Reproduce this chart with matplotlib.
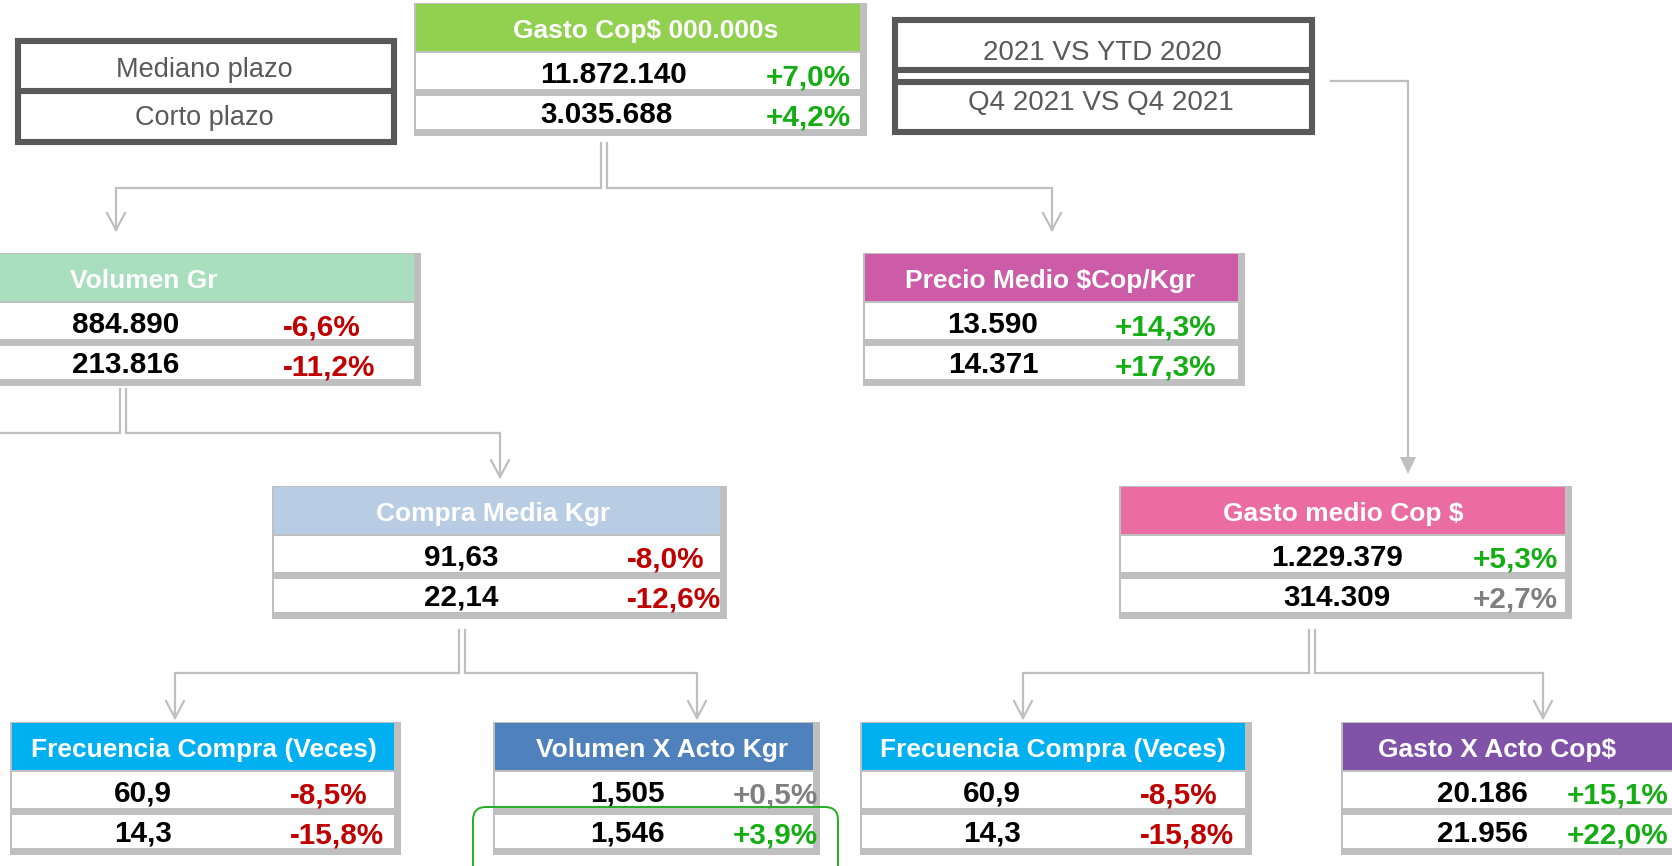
import matplotlib
matplotlib.use("Agg")
import matplotlib.pyplot as plt
from matplotlib.patches import Rectangle, FancyBboxPatch, Polygon

plt.rcParams['font.family'] = ['Liberation Sans', 'DejaVu Sans']

# ---------------- data ----------------
titles = ["Gasto Cop$ 000.000s", "Volumen Gr", "Precio Medio $Cop/Kgr",
          "Compra Media Kgr", "Gasto medio Cop $", "Frecuencia Compra (Veces)",
          "Volumen X Acto Kgr", "Frecuencia Compra (Veces)", "Gasto X Acto Cop$"]
mediano_vals = [11872140, 884890, 13590, 91.63, 1229379, 60.9, 1.505, 60.9, 20186]
corto_vals = [3035688, 213816, 14371, 22.14, 314309, 14.3, 1.546, 14.3, 21956]
decimals = [0, 0, 0, 2, 0, 1, 3, 1, 0]
mediano_pct = [7.0, -6.6, 14.3, -8.0, 5.3, -8.5, 0.5, -8.5, 15.1]
corto_pct = [4.2, -11.2, 17.3, -12.6, 2.7, -15.8, 3.9, -15.8, 22.0]
period_labels = ["Mediano plazo", "Corto plazo"]
comparison_labels = ["2021 VS YTD 2020", "Q4 2021 VS Q4 2021"]

# ---------------- style ----------------
header_colors = ["#92D050", "#A9DFBF", "#CC5BA8", "#B8CCE4", "#EB6CA2",
                 "#00B0F0", "#4F81BD", "#00B0F0", "#8052A8"]
FRAME = "#BFBFBF"
LINE = "#BFBFBF"
DARK = "#595959"
GREEN = "#14AE14"
RED = "#C00000"
GREY = "#7F7F7F"

# layout: frame x0, x1, top, header text cx, value x, value ha, pct left x
layout = [
    (414, 867, 3, 646, 540, 'left', 766),
    (-140, 421, 253, 144, 126, 'center', 283),
    (863, 1245, 253, 1050, 993, 'center', 1115),
    (272, 727, 486, 493, 461, 'center', 627),
    (1119, 1572, 486, 1343, 1337, 'center', 1473),
    (10, 401, 722, 204, 143, 'center', 290),
    (493, 820, 722, 662, 627, 'center', 733),
    (860, 1252, 722, 1053, 992, 'center', 1140),
    (1341, 1690, 722, 1497, 1482, 'center', 1567),
]


def fmt_num(v, d):
    s = f"{v:,.{d}f}"
    return s.replace(",", "X").replace(".", ",").replace("X", ".")


def fmt_pct(p):
    return f"{p:+.1f}%".replace(".", ",")


def pct_color(p):
    if p < 0:
        return RED
    if p >= 3:
        return GREEN
    return GREY


fig = plt.figure(figsize=(16.72, 8.66), dpi=100)
ax = fig.add_axes([0, 0, 1, 1])
ax.set_xlim(0, 1672)
ax.set_ylim(866, 0)
ax.axis('off')

VAL_FS = 21.3
HEAD_FS = 19

for i, (x0, x1, top, hcx, vx, vha, pcx) in enumerate(layout):
    # grey frame / shadow
    ax.add_patch(Rectangle((x0, top), x1 - x0, 133, facecolor=FRAME, edgecolor='none', zorder=1))
    inner_l = x0 + 2
    inner_r = x1 - 7
    ax.add_patch(Rectangle((inner_l, top + 1), inner_r - inner_l, 47,
                           facecolor=header_colors[i], edgecolor='none', zorder=2))
    ax.add_patch(Rectangle((inner_l, top + 50), inner_r - inner_l, 36,
                           facecolor='white', edgecolor='none', zorder=2))
    ax.add_patch(Rectangle((inner_l, top + 93), inner_r - inner_l, 33,
                           facecolor='white', edgecolor='none', zorder=2))
    ax.text(hcx, top + 35, titles[i], color='white', fontsize=HEAD_FS, fontweight='bold',
            ha='center', va='baseline', zorder=3)
    for base_y, v, p in ((top + 80, mediano_vals[i], mediano_pct[i]),
                         (top + 120, corto_vals[i], corto_pct[i])):
        ax.text(vx, base_y, fmt_num(v, decimals[i]), color='black', fontsize=VAL_FS,
                fontweight='bold', ha=vha, va='baseline', zorder=3)
        ax.text(pcx, base_y + 2, fmt_pct(p), color=pct_color(p), fontsize=VAL_FS,
                fontweight='bold', ha='left', va='baseline', zorder=3)

# ---------------- legend-like label boxes ----------------
LW_DARK = 4.4
ax.add_patch(Rectangle((18, 41), 376, 101, facecolor='none', edgecolor=DARK, lw=LW_DARK, zorder=4))
ax.plot([18, 394], [90.5, 90.5], color=DARK, lw=LW_DARK, zorder=4, solid_capstyle='butt')
ax.text(204, 77, period_labels[0], color=DARK, fontsize=19.5, ha='center', va='baseline')
ax.text(204, 125, period_labels[1], color=DARK, fontsize=19.5, ha='center', va='baseline')

ax.add_patch(Rectangle((895, 20), 417, 112, facecolor='none', edgecolor=DARK, lw=LW_DARK, zorder=4))
ax.plot([895, 1312], [69.5, 69.5], color=DARK, lw=LW_DARK, zorder=4, solid_capstyle='butt')
ax.plot([895, 1312], [81.5, 81.5], color=DARK, lw=LW_DARK, zorder=4, solid_capstyle='butt')
ax.text(1102, 60, comparison_labels[0], color=DARK, fontsize=20, ha='center', va='baseline')
ax.text(1101, 110, comparison_labels[1], color=DARK, fontsize=20, ha='center', va='baseline')

# ---------------- connectors ----------------
LW = 1.6


def path(xs, ys):
    ax.plot(xs, ys, color=LINE, lw=LW, zorder=0.5, solid_joinstyle='miter')


def vhead(x, y):
    ax.plot([x - 9, x, x + 9], [y - 17, y, y - 17], color=LINE, lw=LW, zorder=0.5)


def branch(xl, xr, y_top, y_mid, left_to, right_to, tip_y, left_arrow=True):
    path([xl, xl, left_to] + ([left_to] if left_arrow else []),
         [y_top, y_mid, y_mid] + ([tip_y] if left_arrow else []))
    if left_arrow:
        vhead(left_to, tip_y)
    path([xr, xr, right_to, right_to], [y_top, y_mid, y_mid, tip_y])
    vhead(right_to, tip_y)


branch(601, 607, 143, 188, 116, 1052, 230)
branch(120, 126, 389, 433, -5, 500, 477, left_arrow=False)
branch(459, 465, 630, 673, 175, 697, 718)
branch(1309, 1315, 630, 673, 1023, 1543, 718)

# connector from comparison box to Gasto medio
path([1331, 1408, 1408], [81, 81, 458])
ax.add_patch(Polygon([[1400, 457], [1416, 457], [1408, 474]], closed=True,
                     facecolor=LINE, edgecolor='none', zorder=0.5))

# green highlight around the short-term Volumen X Acto row
ax.add_patch(FancyBboxPatch((473, 807), 365, 80, boxstyle="round,pad=0,rounding_size=13",
                            facecolor='none', edgecolor="#22B022", lw=1.4, zorder=5))

fig.savefig("out.png", dpi=100)
